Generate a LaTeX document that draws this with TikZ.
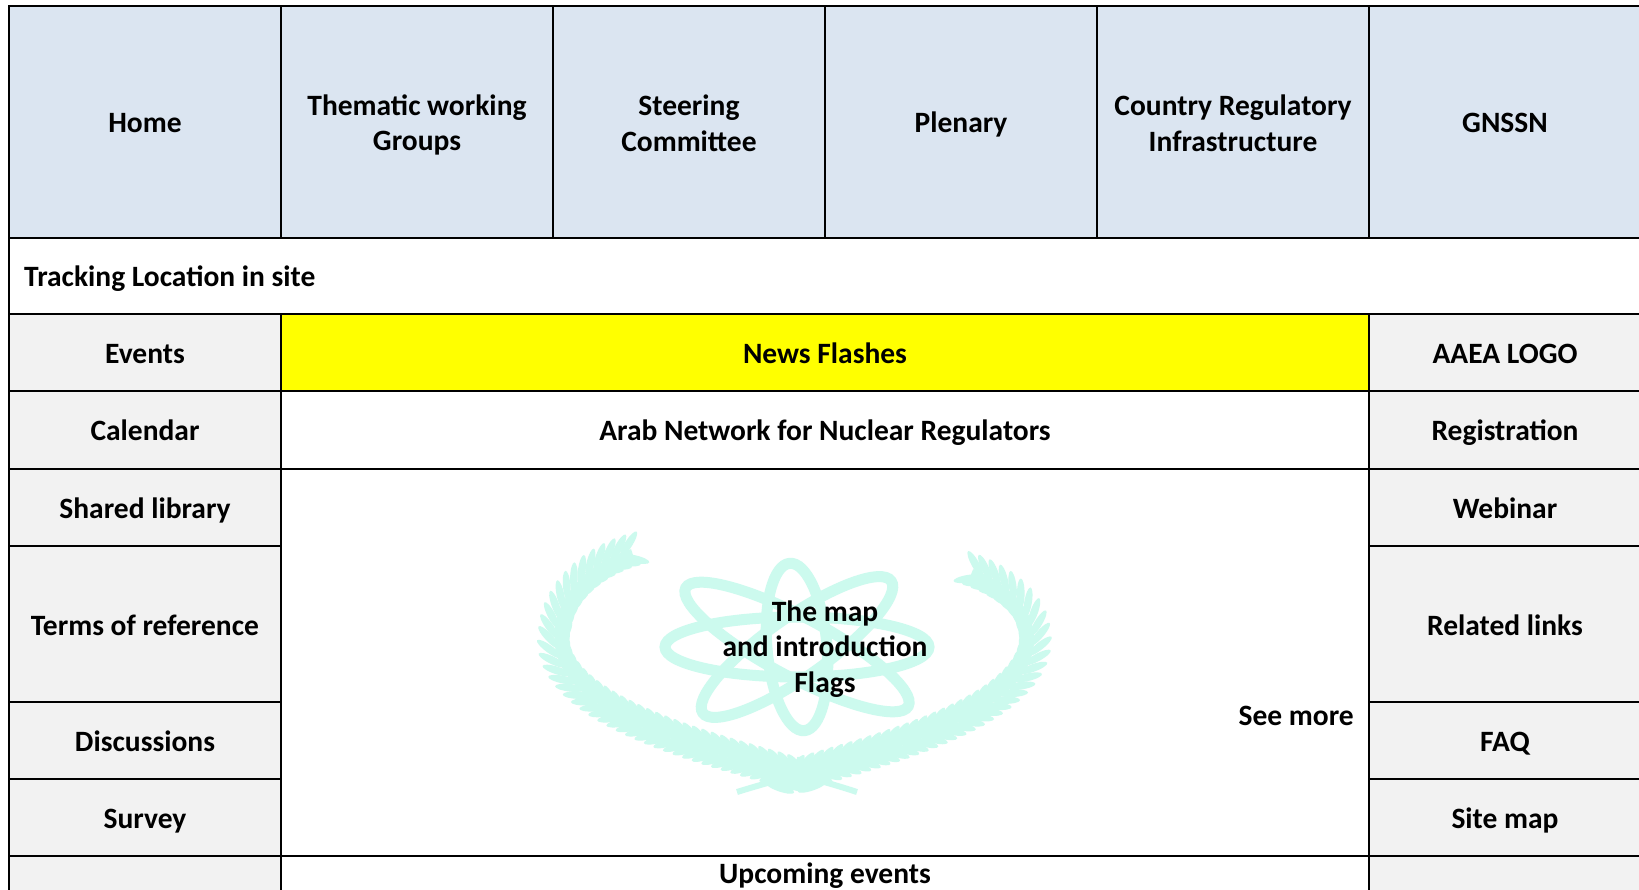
\documentclass[tikz,border=0pt]{standalone}
\usepackage{fontspec}
\setmainfont{Carlito}
\usetikzlibrary{decorations.markings}
\definecolor{hdr}{RGB}{219,229,241}
\definecolor{side}{RGB}{242,242,242}
\definecolor{flash}{RGB}{255,255,0}
\definecolor{logo}{RGB}{204,250,238}
\begin{document}
\begin{tikzpicture}[x=1pt,y=-1pt,
  cell/.style={draw=black, line width=2pt, inner sep=0pt, outer sep=0pt,
    minimum width=272pt, font=\fontsize{29.5}{35.5}\selectfont\bfseries, align=center},
  one/.style={text height=22pt, text depth=0pt},
  headcell/.style={cell, fill=hdr, minimum height=232pt},
  sidecell/.style={cell, fill=side},
  midcell/.style={cell, fill=white, minimum width=1088pt},
  txt/.style={inner sep=0pt, font=\fontsize{29.5}{35.5}\selectfont\bfseries, align=center},
  orbit/.style={draw=logo, line width=11pt},
  branch/.style={draw=logo, line width=6pt,
    postaction={decorate, decoration={markings,
      mark=between positions 0.07 and 0.98 step 10pt with {
        \fill[logo, rotate=35] (14,0) ellipse (15pt and 3.8pt);
        \fill[logo, rotate=-35] (14,0) ellipse (15pt and 3.8pt);}}}}
]
\useasboundingbox (0,0) rectangle (1639,890);
\clip (0,0) rectangle (1639,890);
\fill[white] (0,0) rectangle (1639,890);

% header row
\node[headcell, one] (home) at (145,122) {Home};
\node[headcell] (tw) at (417,122) {};
\node[headcell] (sc) at (689,122) {};
\node[headcell, one] (plen) at (961,122) {Plenary};
\node[headcell] (cri) at (1233,122) {};
\node[headcell, one] (gnssn) at (1505,122) {GNSSN};
\node[txt] (twtxt) at (417,125) {Thematic working\\Groups};
\node[txt] (sctxt) at (689,123.5) {Steering\\Committee};
\node[txt] (critxt) at (1233,123.5) {Country Regulatory\\Infrastructure};

% tracking row
\node[cell, fill=white, minimum width=1632pt, minimum height=76pt] (track) at (825,276) {};
\node[txt, one, anchor=west] (tracktxt) at (24,275.5) {Tracking Location in site};

% left column
\node[sidecell, one, minimum height=77pt] (events) at (145,352.5) {Events};
\node[sidecell, one, minimum height=78pt] (cal) at (145,430) {Calendar};
\node[sidecell, one, minimum height=77pt] (lib) at (145,507.5) {Shared library};
\node[sidecell, one, minimum height=156pt] (terms) at (145,624) {Terms of reference};
\node[sidecell, one, minimum height=77pt] (disc) at (145,740.5) {Discussions};
\node[sidecell, one, minimum height=77pt] (survey) at (145,817.5) {Survey};
\node[sidecell, minimum height=77pt] (leftlast) at (145,894.5) {};

% right column
\node[sidecell, one, minimum height=77pt] (aaea) at (1505,352.5) {AAEA LOGO};
\node[sidecell, one, minimum height=78pt] (reg) at (1505,430) {Registration};
\node[sidecell, one, minimum height=77pt] (web) at (1505,507.5) {Webinar};
\node[sidecell, one, minimum height=156pt] (rel) at (1505,624) {Related links};
\node[sidecell, one, minimum height=77pt] (faq) at (1505,740.5) {FAQ};
\node[sidecell, one, minimum height=77pt] (sitemap) at (1505,817.5) {Site map};
\node[sidecell, minimum height=77pt] (rightlast) at (1505,894.5) {};

% middle column
\node[midcell, one, fill=flash, minimum height=77pt] (news) at (825,352.5) {News Flashes};
\node[midcell, one, minimum height=78pt] (arab) at (825,430) {Arab Network for Nuclear Regulators};
\node[midcell, minimum height=387pt] (map) at (825,662.5) {};
\node[midcell, minimum height=77pt] (upcell) at (825,894.5) {};
\node[txt, one] (uptxt) at (825,872.5) {Upcoming events};

% watermark logo
\begin{scope}
  \draw[branch] (857,792) .. controls (760,760) and (565,725) .. (558,645)
                          .. controls (553,600) and (590,565) .. (632,552);
  \draw[branch] (737,792) .. controls (840,760) and (1028,722) .. (1031,642)
                          .. controls (1033,610) and (1005,585) .. (972,572);
  \draw[orbit] (797,647) ellipse (132pt and 30pt);
  \draw[orbit, rotate around={35:(797,647)}] (797,647) ellipse (115pt and 30pt);
  \draw[orbit, rotate around={95:(797,647)}] (797,647) ellipse (84pt and 30pt);
  \draw[orbit, rotate around={152:(797,647)}] (797,647) ellipse (126pt and 30pt);
\end{scope}
\draw[black, line width=2pt] (map.north west) rectangle (map.south east);

\node[txt] (maptxt) at (825,649) {The map\\and introduction\\Flags};
\node[txt, one, anchor=east] (seemore) at (1354,714.5) {See more};
\end{tikzpicture}
\end{document}
